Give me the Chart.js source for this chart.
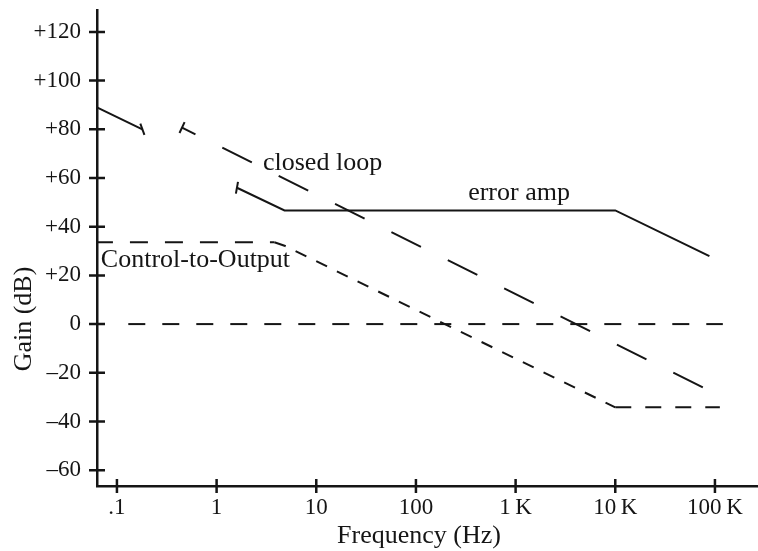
<!DOCTYPE html>
<html>
<head>
<meta charset="utf-8">
<script src="https://cdn.jsdelivr.net/npm/chart.js@4"></script>
<style>
html,body{margin:0;padding:0;background:#fff;}
#wrap{width:758px;height:551px;position:relative;}
</style>
</head>
<body>
<div id="wrap"><canvas id="c"></canvas></div>
<script>
// ---- data ----
const xTickValues = [0.1, 1, 10, 100, 1000, 10000, 100000];
const xTickLabels = ['.1', '1', '10', '100', '1\u2009K', '10\u2009K', '100\u2009K'];
const yTickValues = [-60, -40, -20, 0, 20, 40, 60, 80, 100, 120];
const yTickLabels = ['\u201360', '\u201340', '\u201320', '0', '+20', '+40', '+60', '+80', '+100', '+120'];

const errorAmpFreq = [0.063, 0.18, null, 1.6, 4.8, 10000, 88000];
const errorAmpGain = [89, 80, null, 56, 46.7, 46.7, 27.9];

const closedLoopFreq = [0.45, 112000];
const closedLoopGain = [80.7, -29.5];

const controlFreq = [0.063, 3.8, 4.8, 10000, 112000];
const controlGain = [33.6, 33.6, 32.2, -34.2, -34.2];

const zeroFreq = [0.13, 120000];
const zeroGain = [0, 0];

const seriesNames = ['error amp', 'closed loop', 'Control-to-Output'];
const axisTitles = ['Frequency (Hz)', 'Gain (dB)'];

// ---- helpers ----
const toPts = (xs, ys) => xs.map((x, i) => ({ x: x, y: ys[i] }));
const INK = '#151515';
const SERIF = '"Liberation Serif", "Times New Roman", serif';

const decoPlugin = {
  id: 'deco',
  afterDraw(chart, args, opts) {
    const { ctx, chartArea, scales } = chart;
    const xs = scales.x, ys = scales.y;
    ctx.save();
    // crossing tick marks
    ctx.strokeStyle = INK;
    ctx.lineWidth = 2.5;
    ctx.beginPath();
    ys.ticks.forEach(t => {
      const py = ys.getPixelForValue(t.value);
      ctx.moveTo(chartArea.left - 8, py);
      ctx.lineTo(chartArea.left + 8, py);
    });
    xs.ticks.forEach(t => {
      const px = xs.getPixelForValue(t.value);
      ctx.moveTo(px, chartArea.bottom - 7);
      ctx.lineTo(px, chartArea.bottom + 7);
    });
    ctx.stroke();

    // series labels (anchored in data coordinates)
    ctx.fillStyle = INK;
    ctx.font = '26px ' + SERIF;
    ctx.textAlign = 'left';
    ctx.textBaseline = 'alphabetic';
    opts.anchors.forEach((a, i) => {
      ctx.fillText(seriesNames[i], xs.getPixelForValue(a.x), ys.getPixelForValue(a.y));
    });

    // axis titles
    ctx.textAlign = 'center';
    ctx.fillText(axisTitles[0], opts.xTitle.x, opts.xTitle.y);
    ctx.translate(opts.yTitle.x, opts.yTitle.y);
    ctx.rotate(-Math.PI / 2);
    ctx.fillText(axisTitles[1], 0, 0);
    ctx.restore();
  }
};

const zeroPad = s => { s.paddingTop = 0; s.paddingBottom = 0; s.paddingLeft = 0; s.paddingRight = 0; };
const tickFont = { family: SERIF, size: 23 };

new Chart(document.getElementById('c'), {
  type: 'line',
  data: {
    datasets: [
      {
        label: seriesNames[0],
        data: toPts(errorAmpFreq, errorAmpGain),
        borderColor: INK, borderWidth: 2, tension: 0, spanGaps: false,
        pointStyle: 'line', pointRadius: [0, 6, 0, 6, 0, 0, 0],
        pointRotation: [0, 70, 0, 100, 0, 0, 0],
        pointBorderColor: INK, pointBorderWidth: 2, pointBackgroundColor: INK
      },
      {
        label: seriesNames[1],
        data: toPts(closedLoopFreq, closedLoopGain),
        borderColor: INK, borderWidth: 2, tension: 0,
        borderDash: [33, 30], borderDashOffset: 18,
        pointStyle: 'line', pointRadius: [6, 0], pointRotation: [115, 0],
        pointBorderColor: INK, pointBorderWidth: 2
      },
      {
        label: seriesNames[2],
        data: toPts(controlFreq, controlGain),
        borderColor: INK, borderWidth: 2, tension: 0, pointRadius: 0,
        segment: {
          borderDash: c => c.p0DataIndex === 0 ? [18, 17] : (c.p0DataIndex === 3 ? [16, 14] : [12, 11]),
          borderDashOffset: c => c.p0DataIndex === 0 ? 2 : 0
        }
      },
      {
        label: '0 dB',
        data: toPts(zeroFreq, zeroGain),
        borderColor: INK, borderWidth: 2, tension: 0, pointRadius: 0,
        borderDash: [17, 17]
      }
    ]
  },
  options: {
    responsive: true,
    maintainAspectRatio: false,
    animation: false,
    events: [],
    layout: { autoPadding: false, padding: { top: 10, right: 0, bottom: 0, left: 0 } },
    plugins: {
      legend: { display: false },
      tooltip: { enabled: false },
      deco: {
        anchors: [ { x: 334, y: 50.9 }, { x: 2.92, y: 63.2 }, { x: 0.069, y: 23.5 } ],
        xTitle: { x: 419, y: 543 },
        yTitle: { x: 31, y: 319 }
      }
    },
    scales: {
      x: {
        type: 'logarithmic',
        min: Math.pow(10, -1.2),
        max: Math.pow(10, 5.432),
        afterBuildTicks: s => { s.ticks = xTickValues.map(v => ({ value: v })); },
        afterFit: s => { s.height = 65; zeroPad(s); },
        grid: { display: false, drawTicks: false },
        border: { display: true, color: INK, width: 2.5 },
        ticks: {
          autoSkip: false, maxRotation: 0, minRotation: 0,
          padding: 8, color: INK, font: tickFont,
          callback: (v, i) => xTickLabels[i]
        }
      },
      y: {
        type: 'linear',
        min: -66.5,
        max: 129,
        afterBuildTicks: s => { s.ticks = yTickValues.map(v => ({ value: v })); },
        afterFit: s => { s.width = 97; zeroPad(s); },
        grid: { display: false, drawTicks: false },
        border: { display: true, color: INK, width: 2.5 },
        ticks: {
          padding: 16, color: INK, font: tickFont,
          callback: (v, i) => yTickLabels[i]
        }
      }
    }
  },
  plugins: [decoPlugin]
});
</script>
</body>
</html>
